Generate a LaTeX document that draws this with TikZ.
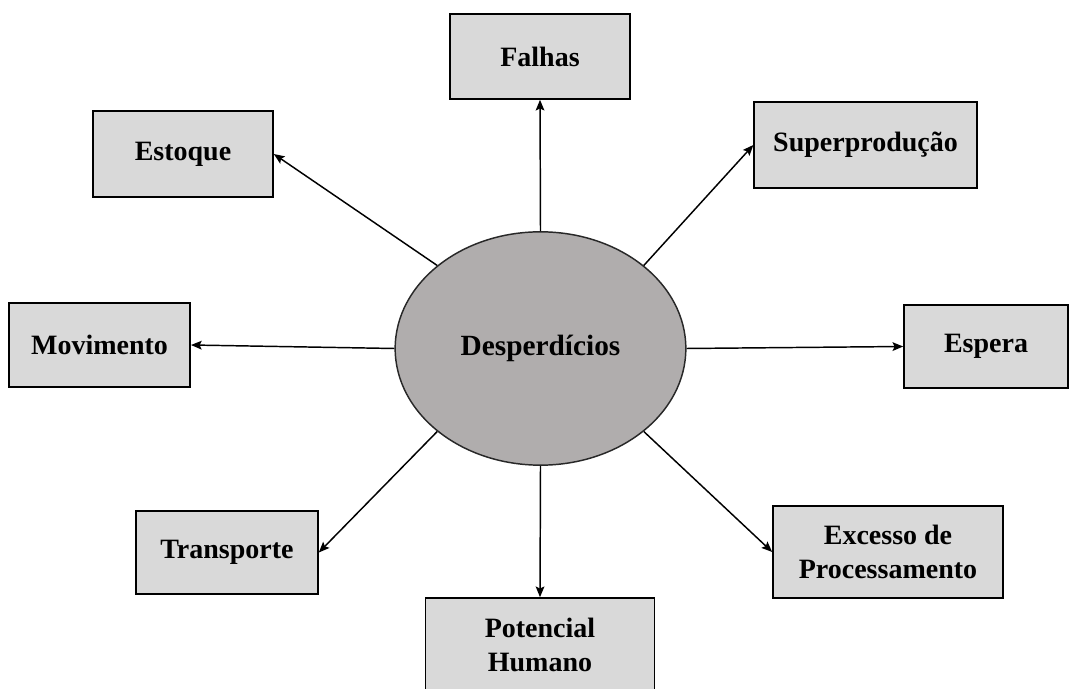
\documentclass[tikz,border=0pt]{standalone}
\usepackage{fontspec}
\setmainfont{Liberation Serif}
\usepackage{xcolor}
\usetikzlibrary{arrows.meta,positioning,shapes.geometric}
\definecolor{boxgray}{RGB}{217,217,217}
\definecolor{coregray}{RGB}{176,173,173}
\definecolor{edgegray}{RGB}{40,40,40}

\begin{document}
\begin{tikzpicture}[x=0.75pt,y=0.75pt,>={Stealth[length=8pt,width=6.5pt,inset=1.5pt]},
  wastebox/.style={draw=black,line width=1.2pt,fill=boxgray,align=center,
    font=\fontsize{21}{26}\selectfont\bfseries,inner sep=0pt},
  flow/.style={->,line width=1.1pt}]
  \useasboundingbox (0,0) rectangle (1075,689);
  % central ellipse
  \node[ellipse,draw=edgegray,line width=1.1pt,fill=coregray,inner sep=0pt,
    minimum width=218pt,minimum height=175pt,
    font=\fontsize{22}{26}\selectfont\bfseries] (core) at (540.5,340.5) {Desperdícios};
  % surrounding boxes
  \node[wastebox,minimum width=135pt,minimum height=63.75pt] (falhas) at (540,632.5) {Falhas};
  \node[wastebox,minimum width=135pt,minimum height=64.5pt] (estoque) at (183,535) {Estoque};
  \node[wastebox,minimum width=167pt,minimum height=64.5pt] (superprod) at (865.5,544) {Superprodução};
  \node[wastebox,minimum width=136pt,minimum height=63pt] (movimento) at (99.5,344) {Movimento};
  \node[wastebox,minimum width=123pt,minimum height=62pt] (espera) at (986,342.5) {Espera};
  \node[wastebox,minimum width=136.5pt,minimum height=62pt] (transporte) at (227,136.5) {Transporte};
  \node[wastebox,minimum width=172.5pt,minimum height=69pt] (excesso) at (888,137) {Excesso de\\Processamento};
  \node[wastebox,minimum width=172pt,minimum height=70.5pt] (potencial) at (540,44) {Potencial\\Humano};
  % arrows out of the ellipse
  \draw[flow] (core.north) -- (falhas.south);
  \draw[flow] (core.north west) -- (estoque.east);
  \draw[flow] (core.north east) -- (superprod.west);
  \draw[flow] (core.west) -- (movimento.east);
  \draw[flow] (core.east) -- (espera.west);
  \draw[flow] (core.south west) -- (transporte.east);
  \draw[flow] (core.south east) -- (excesso.west);
  \draw[flow] (core.south) -- (potencial.north);
\end{tikzpicture}
\end{document}
